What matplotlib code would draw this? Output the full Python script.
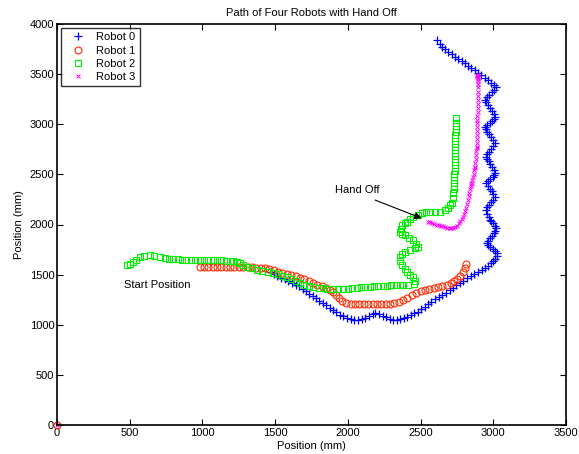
import matplotlib
matplotlib.use("Agg")
import matplotlib.pyplot as plt

plt.rcParams['font.family'] = ['Liberation Sans', 'DejaVu Sans']

# Robot 0 (blue +)
x0 = [1465, 1490, 1515, 1540, 1565, 1590, 1615, 1640, 1665, 1690, 1712, 1735, 1758, 1780, 1805, 1830,
      1852, 1875, 1898, 1920, 1945, 1970, 1995, 2020, 2045, 2070, 2095, 2120, 2145, 2170, 2190, 2215,
      2240, 2265, 2290, 2310, 2335, 2360, 2385, 2410, 2435, 2458, 2480, 2505, 2528, 2550, 2575, 2600,
      2625, 2650, 2675, 2700, 2722, 2745, 2770, 2795, 2820, 2845, 2870, 2895, 2920, 2945, 2965, 2985,
      3000, 3015, 3025, 3025,
      3012, 2995, 2978, 2965, 2955, 2962, 2975, 2990, 3005, 3015, 3020, 3010, 2998, 2985, 2977, 2968,
      2958, 2950, 2958, 2970, 2983, 2997, 3010, 3000, 2988, 2975, 2962, 2950, 2962, 2978, 2995, 3008,
      3015, 3005, 2993, 2980, 2968, 2958, 2950, 2960, 2972, 2985, 2998, 3010, 2998, 2985, 2972, 2960,
      2950, 2945, 2958, 2975, 2992, 3005, 3015, 3005, 2992, 2978, 2965, 2953, 2945, 2958, 2972, 2990,
      3005, 3020,
      3005, 2985, 2962, 2940, 2918, 2895, 2872, 2850, 2828, 2805, 2782, 2760, 2738, 2715, 2692, 2670,
      2650, 2632, 2614]
y0 = [1526, 1508, 1490, 1470, 1452, 1432, 1414, 1398, 1382, 1360, 1335, 1310, 1285, 1262, 1240, 1218,
      1195, 1168, 1145, 1125, 1100, 1085, 1070, 1058, 1048, 1052, 1062, 1072, 1085, 1105, 1117, 1105,
      1090, 1078, 1060, 1047, 1050, 1058, 1068, 1080, 1098, 1115, 1132, 1155, 1180, 1205, 1228, 1252,
      1275, 1298, 1320, 1345, 1368, 1392, 1420, 1440, 1462, 1482, 1502, 1525, 1545, 1568, 1590, 1612,
      1635, 1660, 1690, 1716,
      1735, 1755, 1775, 1795, 1815, 1840, 1865, 1890, 1915, 1940, 1965, 1990, 2015, 2030, 2045, 2075,
      2105, 2145, 2170, 2195, 2220, 2248, 2274, 2300, 2330, 2358, 2385, 2414, 2435, 2455, 2475, 2495,
      2514, 2540, 2570, 2600, 2630, 2650, 2673, 2700, 2728, 2755, 2785, 2813, 2840, 2870, 2900, 2925,
      2950, 2973, 2995, 3015, 3035, 3055, 3072, 3100, 3130, 3160, 3190, 3218, 3242, 3268, 3295, 3320,
      3345, 3372,
      3395, 3415, 3440, 3465, 3490, 3515, 3540, 3562, 3585, 3608, 3630, 3652, 3675, 3700, 3725, 3750,
      3775, 3805, 3840]

# Robot 1 (red o)
x1 = [0, 983, 1010, 1040, 1070, 1100, 1130, 1160, 1190, 1220, 1250, 1280, 1310, 1340, 1370, 1400,
      1430, 1460, 1490, 1520, 1550, 1580, 1610, 1640, 1670, 1700, 1730, 1760, 1790, 1820, 1850, 1880,
      1900, 1920, 1940, 1960, 1990, 2020, 2050, 2080, 2110, 2140, 2170, 2200, 2230, 2260, 2290, 2320,
      2350, 2380, 2410, 2440, 2470, 2500, 2530, 2560, 2590, 2620, 2650, 2680, 2710, 2730, 2750, 2770,
      2790, 2805, 2815]
y1 = [0, 1576, 1576, 1576, 1576, 1577, 1576, 1576, 1575, 1576, 1576, 1575, 1574, 1572, 1570, 1568,
      1565, 1555, 1545, 1530, 1520, 1510, 1500, 1485, 1470, 1455, 1440, 1420, 1400, 1385, 1370, 1350,
      1330, 1300, 1270, 1240, 1220, 1210, 1205, 1205, 1203, 1205, 1205, 1204, 1205, 1206, 1210, 1215,
      1225, 1245, 1270, 1300, 1320, 1335, 1345, 1355, 1365, 1375, 1385, 1395, 1415, 1435, 1460, 1490,
      1530, 1570, 1610]

# Robot 2 (green square)
x2 = [481, 500, 523, 545, 571, 600, 639, 670, 708, 740, 770, 800, 830, 860, 890, 920, 950, 983,
      1010, 1040, 1070, 1100, 1130, 1160, 1190, 1210, 1240, 1258, 1280, 1306, 1340, 1375, 1410, 1450,
      1485, 1520, 1550, 1581, 1610, 1640, 1671, 1700, 1730, 1760, 1800, 1830, 1860, 1900, 1930, 1966,
      2000, 2030, 2060, 2090, 2120, 2150, 2180, 2210, 2240, 2270, 2300, 2330, 2358, 2379,
      2415, 2455, 2462, 2448, 2430, 2407, 2390, 2372, 2360, 2358, 2370, 2393, 2430, 2462, 2482, 2470,
      2448, 2420, 2393, 2370, 2358, 2362, 2372, 2390, 2407, 2428, 2448, 2480, 2510, 2540, 2565, 2600,
      2634, 2665, 2689, 2705, 2716, 2720, 2723,
      2728, 2730, 2730, 2732, 2733, 2733, 2735, 2735, 2736, 2737, 2737, 2738, 2738, 2738, 2739, 2739,
      2740, 2740, 2740, 2741, 2741, 2742, 2742, 2743]
y2 = [1600, 1605, 1626, 1650, 1676, 1690, 1696, 1690, 1676, 1668, 1660, 1656, 1652, 1650, 1648,
      1647, 1646, 1646, 1645, 1644, 1643, 1642, 1641, 1640, 1640, 1636, 1630, 1616, 1600, 1580, 1565,
      1546, 1535, 1525, 1516, 1505, 1490, 1476, 1455, 1435, 1416, 1400, 1390, 1377, 1367, 1362, 1360,
      1357, 1357, 1357, 1360, 1365, 1370, 1375, 1377, 1380, 1383, 1385, 1387, 1390, 1392, 1395, 1397,
      1397,
      1400, 1410, 1440, 1476, 1500, 1526, 1560, 1596, 1635, 1676, 1705, 1726, 1748, 1766, 1776, 1810,
      1845, 1870, 1895, 1910, 1925, 1960, 1995, 2010, 2025, 2050, 2075, 2095, 2115, 2122, 2125, 2125,
      2125, 2145, 2165, 2190, 2214, 2264, 2314,
      2350, 2380, 2410, 2440, 2470, 2500, 2530, 2560, 2590, 2620, 2650, 2680, 2710, 2740, 2770, 2800,
      2830, 2860, 2890, 2920, 2950, 2980, 3010, 3065]

# Robot 3 (magenta x)
x3 = [0, 2551, 2565, 2580, 2595, 2610, 2625, 2640, 2655, 2670, 2685, 2700, 2712, 2725, 2737, 2750,
      2762, 2772, 2782, 2792, 2800, 2808, 2815, 2820, 2826, 2830, 2835, 2840, 2845, 2850, 2853, 2857,
      2860, 2864, 2868, 2871, 2874, 2877, 2880, 2882, 2884, 2886, 2888, 2888, 2889, 2889, 2890, 2890,
      2890, 2891, 2891, 2892, 2892, 2893, 2893, 2894, 2894, 2895, 2895, 2895, 2894, 2893, 2892, 2891,
      2890, 2889, 2888]
y3 = [0, 2025, 2020, 2013, 2005, 1998, 1993, 1988, 1982, 1975, 1968, 1963, 1962, 1965, 1975, 1990,
      2010, 2030, 2052, 2075, 2100, 2130, 2165, 2205, 2244, 2280, 2315, 2350, 2385, 2400, 2414, 2445,
      2475, 2505, 2540, 2560, 2573, 2610, 2650, 2690, 2730, 2760, 2773, 2810, 2850, 2890, 2930, 2970,
      3010, 3042, 3080, 3120, 3160, 3200, 3240, 3280, 3320, 3372, 3400, 3430, 3450, 3465, 3475, 3480,
      3485, 3488, 3491]

fig = plt.figure(figsize=(5.79, 4.54), dpi=100)
ax = fig.add_axes([57/579, 29/454, 509/579, 401/454])

ax.plot(x0, y0, '+', color='#0000ff', ms=6, mew=0.9, label='Robot 0')
ax.plot(x1, y1, 'o', color='#ff2a00', ms=5, mew=0.8, mfc='none', label='Robot 1', clip_on=False)
ax.plot(x2, y2, 's', color='#00ee00', ms=5, mew=0.8, mfc='none', label='Robot 2')
ax.plot(x3, y3, 'x', color='#ff00ff', ms=3.5, mew=0.7, label='Robot 3', clip_on=False)

ax.annotate('', xy=(2507, 2062), xytext=(2187, 2244),
            arrowprops=dict(arrowstyle='-|>', color='black', lw=0.8, shrinkA=0, shrinkB=0,
                            mutation_scale=10))
ax.text(1912, 2344, 'Hand Off', fontsize=8, va='center')
ax.text(461, 1397, 'Start Position', fontsize=8, va='center')

ax.set_xlim(0, 3500)
ax.set_ylim(0, 4000)
ax.set_xticks(range(0, 3501, 500))
ax.set_yticks(range(0, 4001, 500))
ax.tick_params(direction='in', top=True, right=True, length=4, labelsize=8, pad=2)
for s in ax.spines.values():
    s.set_linewidth(1.2)

ax.set_title('Path of Four Robots with Hand Off', fontsize=8, pad=6)
ax.set_xlabel('Position (mm)', fontsize=8, labelpad=2)
ax.set_ylabel('Position (mm)', fontsize=8, labelpad=4)

leg = ax.legend(loc='upper left', fontsize=8, handlelength=2.2, borderpad=0.35, labelspacing=0.3,
                handletextpad=0.6, fancybox=False, borderaxespad=0.4)
leg.get_frame().set_edgecolor('black')
leg.get_frame().set_linewidth(1.0)

fig.savefig('out.png', dpi=100)
